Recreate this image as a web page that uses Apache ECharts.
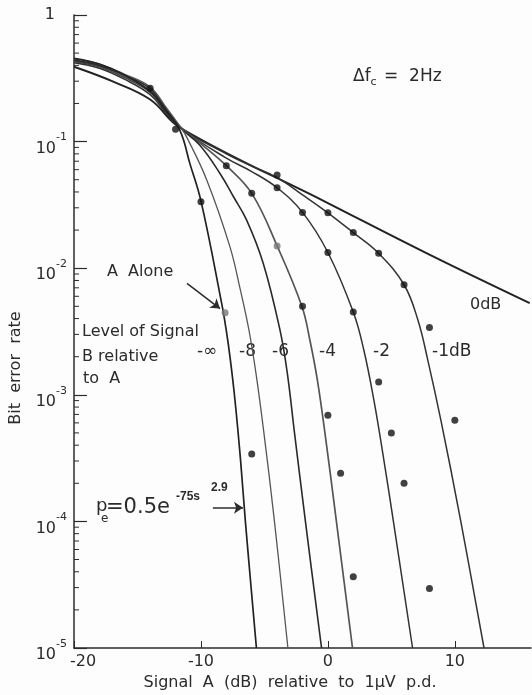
<!DOCTYPE html>
<html lang="en">
<head>
  <meta charset="UTF-8">
  <title>Bit error rate</title>
  <script src="https://cdn.jsdelivr.net/npm/echarts@6/dist/echarts.min.js"></script>
  <style>html,body{margin:0;padding:0;background:#fdfdfd}</style>
</head>
<body>
  <div id="main" style="width:532px;height:695px"></div>
  <script>
    var FONT = '"DejaVu Sans"';
    var INK = '#2b2b2b';

    // axis ticks
    var xTicks = [-20, -10, 0, 10];
    var decades = [1e-5, 1e-4, 1e-3, 1e-2, 1e-1];
    var minorSteps = [2, 3, 4, 5, 6, 7, 8, 9];

    // curves: level of signal B relative to A, [dB, bit error rate]
    var curveInf = [[-20,0.455],[-18,0.41],[-16,0.335],[-14,0.25],[-12.8,0.178],[-11.65,0.122],[-10.87,0.067],[-10,0.034],[-8.37,5.3e-3],[-8.01,3.25e-3],[-7.68,1.88e-3],[-7.32,9.1e-4],[-6.88,3.05e-4],[-6.5,1e-4],[-5.63,1e-5]];
    var curveM8 = [[-20,0.45],[-18,0.41],[-16,0.34],[-14,0.27],[-12.8,0.19],[-11.6,0.13],[-11.13,0.109],[-9.55,0.05],[-7.72,0.0148],[-6.89,6.7e-3],[-6.22,3.25e-3],[-5.67,1.49e-3],[-5.04,5e-4],[-4.21,1e-4],[-3.15,1e-5]];
    var curveM6 = [[-20,0.44],[-18,0.4],[-16,0.335],[-14,0.262],[-12.8,0.185],[-11.6,0.128],[-10.1,0.094],[-8.5,0.056],[-7.46,0.037],[-6.4,0.024],[-5.09,0.0109],[-3.78,3.27e-3],[-3.2,1.49e-3],[-2.63,5e-4],[-1.77,1e-4],[-0.5,1e-5]];
    var curveM4 = [[-20,0.435],[-18,0.395],[-16,0.325],[-14,0.25],[-12.8,0.18],[-11.6,0.13],[-10,0.096],[-8,0.0645],[-6,0.039],[-4,0.015],[-2.05,5e-3],[-1.42,2.71e-3],[-0.83,1.31e-3],[-0.16,4.4e-4],[0.67,1e-4],[1.94,1e-5]];
    var curveM2 = [[-20,0.43],[-18,0.39],[-16,0.32],[-14,0.245],[-12.8,0.175],[-11.6,0.128],[-8,0.074],[-6,0.058],[-4,0.0432],[-2,0.0276],[0,0.0133],[2,4.5e-3],[2.83,2.26e-3],[3.62,9.1e-4],[4.41,3.05e-4],[5.16,1e-4],[6.67,1e-5]];
    var curveM1 = [[-20,0.42],[-18,0.38],[-16,0.31],[-14,0.235],[-12.8,0.17],[-11.6,0.128],[-8,0.08],[-6,0.064],[-4,0.052],[-2,0.038],[0,0.0274],[2,0.0191],[4,0.0131],[6,7.4e-3],[7.09,3.9e-3],[7.87,1.88e-3],[8.9,6.3e-4],[10.47,1e-4],[12.3,1e-5]];
    var curve0 = [[-20,0.39],[-17,0.3],[-14,0.215],[-11.6,0.128],[0,0.0327],[8,0.0128],[15.9,5.3e-3]];

    // measured points
    var dotsBlack = [[-14,0.264],[-12,0.125],[-8,0.0645],[-6,0.039],[-10,0.0335],[-4,0.0545],[-4,0.0432],[-2,0.0276],[0,0.0274],[2,0.0191],[4,0.0131],[0,0.0133],[6,7.4e-3],[-2,5e-3],[2,4.5e-3],[8,3.4e-3],[4,1.26e-3],[0,6.9e-4],[10,6.3e-4],[5,5e-4],[1,2.4e-4],[6,2e-4],[-6,3.4e-4],[2,3.65e-5],[8,2.95e-5]];
    var dotsGrey = [[-4,0.015],[-8.1,4.45e-3]];

    var minorTicks = [];
    decades.forEach(function (d) {
      minorSteps.forEach(function (m) { minorTicks.push([-20, d * m]); });
    });

    var myChart = echarts.init(document.getElementById('main'));

    function curve(name, data, color, width) {
      return {
        name: name, type: 'line', data: data,
        symbol: 'none', smooth: 0.4,
        lineStyle: { color: color, width: width },
        silent: true, z: 2
      };
    }

    function txt(text, x, y, size, extra) {
      var el = {
        type: 'text', x: x, y: y,
        style: { text: text, font: size + 'px ' + FONT, fill: INK, verticalAlign: 'middle' }
      };
      if (extra) Object.assign(el.style, extra);
      return el;
    }

    var arrowA = curve('arrows', [], INK, 1);
    arrowA.markLine = {
      silent: true, symbol: ['none', 'arrow'], symbolSize: 9,
      label: { show: false },
      lineStyle: { color: INK, width: 1.5, type: 'solid' },
      data: [
        [{ coord: [-11.1, 7.6e-3] }, { coord: [-8.5, 4.8e-3] }],
        [{ coord: [-9.06, 1.28e-4] }, { coord: [-6.69, 1.28e-4] }]
      ]
    };

    var yTitle = txt('Bit  error  rate', 16, 368, 16, { align: 'center' });
    yTitle.rotation = Math.PI / 2;

    var option = {
      backgroundColor: '#fdfdfd',
      animation: false,
      grid: { left: 74, right: 1, top: 15, bottom: 47 },
      xAxis: {
        type: 'value', min: -20, max: 16, interval: 10,
        axisLine: { onZero: false, lineStyle: { color: INK, width: 1.5 } },
        axisTick: { inside: true, length: 7, customValues: xTicks, lineStyle: { color: INK } },
        splitLine: { show: false },
        axisLabel: {
          customValues: xTicks, margin: 6, color: INK, fontFamily: FONT, fontSize: 16,
          formatter: function (v) { return v === -20 ? '{p|-20}' : String(v); },
          rich: { p: { fontFamily: FONT, fontSize: 16, color: INK, padding: [0, 0, 0, 18] } }
        }
      },
      yAxis: {
        type: 'log', logBase: 10, min: 1e-5, max: 1,
        axisLine: { show: true, onZero: false, lineStyle: { color: INK, width: 1.5 } },
        axisTick: { show: true, inside: true, length: 13, lineStyle: { color: INK, width: 1.2 } },
        splitLine: { show: false },
        axisLabel: {
          margin: 7, color: INK,
          formatter: function (v) {
            var e = Math.round(Math.log10(v));
            return e === 0 ? '{one|1}' : '{b|10}{s|-' + Math.abs(e) + '}';
          },
          rich: {
            one: { fontFamily: FONT, fontSize: 16, color: INK, padding: [0, 12, 0, 0] },
            b: { fontFamily: FONT, fontSize: 16, color: INK, padding: [14, 0, 0, 0] },
            s: { fontFamily: FONT, fontSize: 11, color: INK, padding: [0, 0, 8, 0] }
          }
        }
      },
      series: [
        {
          type: 'custom', data: minorTicks, silent: true, z: 3,
          renderItem: function (params, api) {
            var p = api.coord([api.value(0), api.value(1)]);
            return {
              type: 'line',
              shape: { x1: p[0], y1: p[1], x2: p[0] + 5, y2: p[1] },
              style: { stroke: INK, lineWidth: 1 }
            };
          }
        },
        curve('0 dB', curve0, '#222', 2),
        curve('-1 dB', curveM1, '#333', 1.5),
        curve('-2 dB', curveM2, '#333', 1.5),
        curve('-4 dB', curveM4, '#555', 1.7),
        curve('-6 dB', curveM6, '#2a2a2a', 1.6),
        curve('-8 dB', curveM8, '#555', 1.3),
        curve('A alone', curveInf, '#222', 1.7),
        arrowA,
        {
          type: 'scatter', data: dotsBlack, symbolSize: 7, silent: true, z: 4,
          itemStyle: { color: '#111' }
        },
        {
          type: 'scatter', data: dotsGrey, symbolSize: 7, silent: true, z: 4,
          itemStyle: { color: '#777' }
        }
      ],
      graphic: [
        yTitle,
        txt('Signal  A  (dB)  relative  to  1\u00b5V  p.d.', 290, 683, 16, { align: 'center' }),
        {
          type: 'text', x: 353, y: 77,
          style: {
            text: '{m|\u0394f}{c|c}{m| =  2Hz}', verticalAlign: 'middle',
            rich: {
              m: { font: '17px ' + FONT, fill: INK },
              c: { font: '11px ' + FONT, fill: INK, padding: [10, 2, 0, 0] }
            }
          }
        },
        txt('0dB', 470, 305, 16),
        txt('A  Alone', 107, 272, 16),
        txt('Level of Signal', 82, 332, 16),
        txt('B relative', 82, 357, 16),
        txt('to  A', 83, 379, 16),
        txt('-\u221e', 197, 352, 17),
        txt('-8', 239, 352, 17),
        txt('-6', 272, 352, 17),
        txt('-4', 319, 352, 17),
        txt('-2', 373, 352, 17),
        txt('-1dB', 432, 352, 17),
        txt('p', 96, 506, 18),
        txt('e', 101, 519, 12),
        txt('=0.5e', 106, 508, 21),
        txt('-75s', 176, 497, 15, { fontWeight: 'bold' }),
        txt('2.9', 211, 488, 14, { fontWeight: 'bold' })
      ]
    };

    myChart.setOption(option);
  </script>
</body>
</html>
